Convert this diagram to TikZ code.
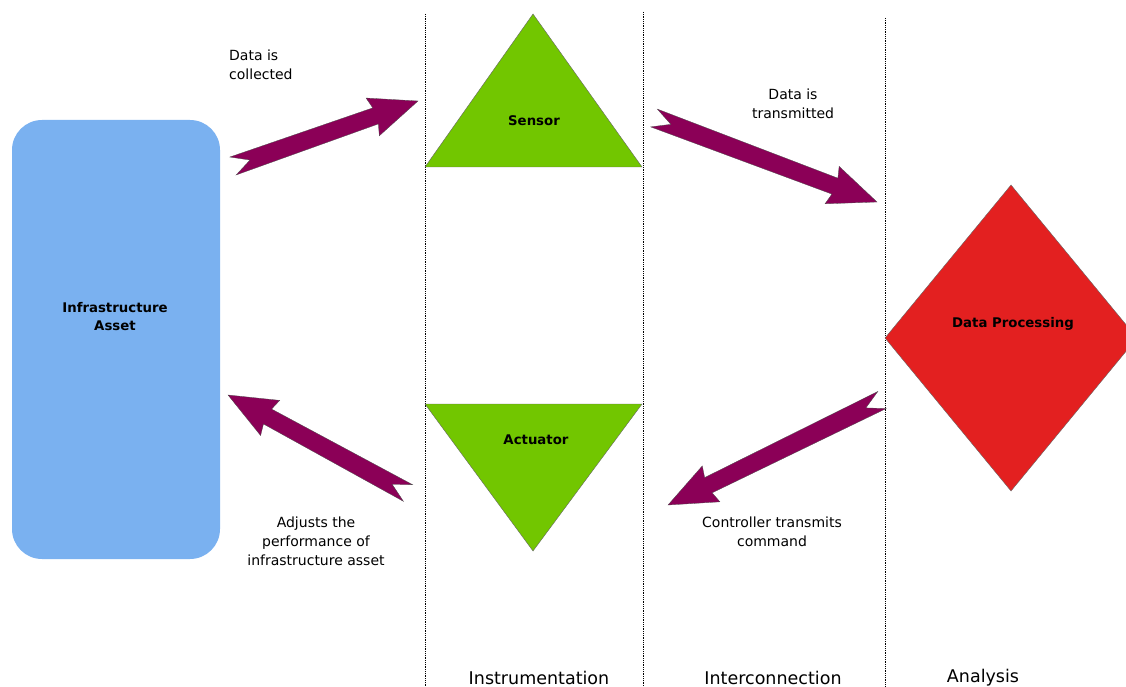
\documentclass[tikz,border=0pt]{standalone}
\usepackage{fontspec}
\setmainfont{DejaVu Sans}
\usetikzlibrary{calc}
\definecolor{assetblue}{RGB}{122,177,240}
\definecolor{sensgreen}{RGB}{114,198,0}
\definecolor{procred}{RGB}{227,32,32}
\definecolor{arrowfill}{RGB}{139,0,87}
\tikzset{
  lbl/.style={font=\fontsize{14}{19}\selectfont, align=center, inner sep=0pt},
  boldlbl/.style={font=\fontsize{13.3}{18}\selectfont\bfseries, align=center, inner sep=0pt},
  collbl/.style={font=\fontsize{17.5}{18}\selectfont, inner sep=0pt},
  divider/.style={line width=1pt, dash pattern=on 1pt off 0.8pt},
  shapeedge/.style={draw=black!60, line width=0.4pt},
  fatarrowstyle/.style={fill=arrowfill, draw=black!70, line width=0.3pt}
}
\newcommand{\fatarrow}[2]{%
  \coordinate (fa-n) at ($(#1)!18pt!(#2)$);
  \coordinate (fa-b) at ($(#2)!48pt!(#1)$);
  \coordinate (fa-c) at ($(#2)!45pt!(#1)$);
  \path[fatarrowstyle] ($(#1)!9.5pt!90:(#2)$) -- ($(fa-c)!8.5pt!-90:(#1)$) -- ($(fa-b)!20pt!-90:(#1)$) -- (#2) -- ($(fa-b)!20pt!90:(#1)$) -- ($(fa-c)!8.5pt!90:(#1)$) -- ($(#1)!9.5pt!-90:(#2)$) -- (fa-n) -- cycle;
}
\begin{document}
\begin{tikzpicture}[x=1pt,y=-1pt]
\useasboundingbox (0,0) rectangle (1126,687);
\clip (0,0) rectangle (1126,687);

% dividers
\coordinate (d1t) at (425,14); \coordinate (d1b) at (425,687);
\coordinate (d2t) at (643,12); \coordinate (d2b) at (643,687);
\coordinate (d3t) at (885,18); \coordinate (d3b) at (885,687);
\draw[divider] (d1t) -- (d1b);
\draw[divider] (d2t) -- (d2b);
\draw[divider] (d3t) -- (d3b);

% infrastructure asset
\node[fill=assetblue, rounded corners=30pt, minimum width=208pt, minimum height=439pt, inner sep=0pt] (asset) at (116,339.5) {};
\node[boldlbl] (assettext) at (115,317) {Infrastructure\\Asset};

% sensor
\coordinate (s-top) at (533,14);
\coordinate (s-l) at (425,167);
\coordinate (s-r) at (642,167);
\path[fill=sensgreen, shapeedge] (s-top) -- (s-r) -- (s-l) -- cycle;
\node[boldlbl] (sensor) at (534,121) {Sensor};

% actuator
\coordinate (a-l) at (425,404);
\coordinate (a-r) at (642,404);
\coordinate (a-bot) at (533,551);
\path[fill=sensgreen, shapeedge] (a-l) -- (a-r) -- (a-bot) -- cycle;
\node[boldlbl] (actuator) at (536,440) {Actuator};

% data processing
\coordinate (p-top) at (1011,185);
\coordinate (p-l) at (885,338);
\coordinate (p-r) at (1137,338);
\coordinate (p-bot) at (1011,491);
\path[fill=procred, shapeedge] (p-top) -- (p-r) -- (p-bot) -- (p-l) -- cycle;
\node[boldlbl] (proc) at (1013,324) {Data Processing};

% arrows
\coordinate (c1t) at (233,166); \coordinate (c1h) at (418,101);
\coordinate (c2t) at (654,118); \coordinate (c2h) at (877,202);
\coordinate (c3t) at (882,400); \coordinate (c3h) at (668,505);
\coordinate (c4t) at (408,493); \coordinate (c4h) at (228,395);
\fatarrow{c1t}{c1h}
\fatarrow{c2t}{c2h}
\fatarrow{c3t}{c3h}
\fatarrow{c4t}{c4h}

% labels
\node[lbl, anchor=west, align=left] (l1) at (229,64.5) {Data is\\collected};
\node[lbl] (l2) at (793,104) {Data is\\transmitted};
\node[lbl] (l3) at (316,541) {Adjusts the\\performance of\\infrastructure asset};
\node[lbl] (l4) at (772,532) {Controller transmits\\command};

\node[collbl] (c-inst) at (539,678) {Instrumentation};
\node[collbl] (c-inter) at (773,678) {Interconnection};
\node[collbl] (c-anal) at (983,678) {Analysis};
\end{tikzpicture}
\end{document}
